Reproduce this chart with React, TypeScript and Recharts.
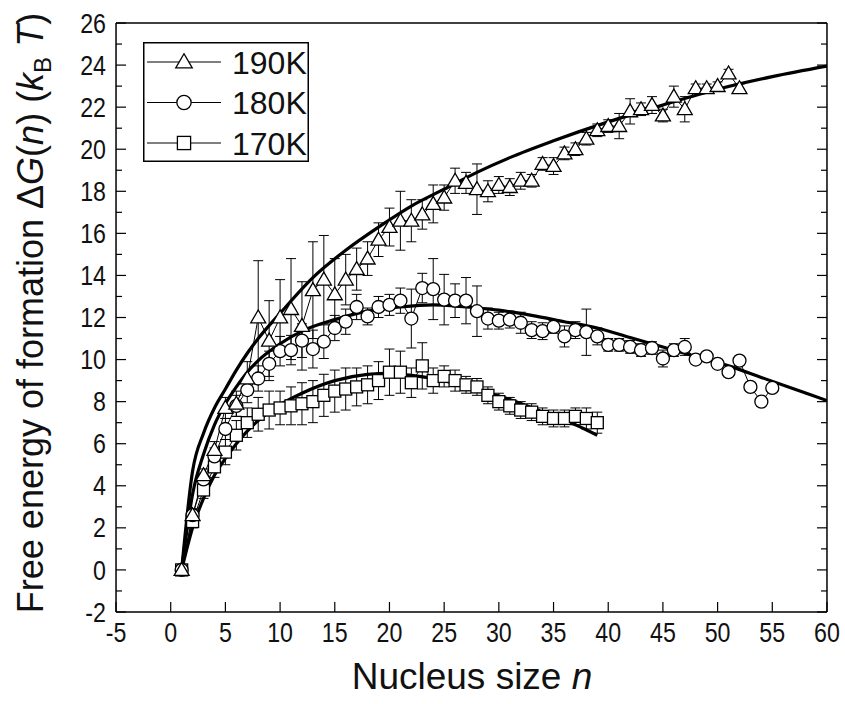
import React from 'react'
import { ComposedChart, Line, XAxis, YAxis, ErrorBar, Legend, Label } from 'recharts'

const FONT = '"Liberation Sans", Arial, Helvetica, sans-serif'

const range = (a: number, b: number) => Array.from({ length: b - a + 1 }, (_, i) => a + i)

// nucleus sizes n per temperature
const n190 = range(1, 52)
const n180 = range(1, 55)
const n170 = range(1, 39)

// measured free energy of formation (kBT) and error bars
const dg190 = [0, 2.6, 4.5, 5.7, 7.7, 7.9, 9.1, 12.0, 10.9, 12.0, 12.4, 11.6, 13.3, 13.8, 13.1, 13.8, 14.3, 14.8, 15.7, 16.3,
  16.6, 16.6, 16.9, 17.4, 17.7, 18.5, 18.4, 18.1, 18.0, 18.3, 18.2, 18.5, 18.5, 19.3, 19.2, 19.8, 20.0, 20.5, 20.9, 21.1,
  21.1, 21.8, 21.9, 22.1, 21.6, 22.5, 21.9, 22.9, 22.9, 23.0, 23.6, 22.9]
const err190 = [0.1, 0.3, 0.3, 0.4, 0.5, 0.6, 0.8, 2.7, 1.9, 1.8, 2.4, 2.1, 2.3, 2.1, 1.7, 1.2, 1.0, 0.8, 0.8, 0.9,
  1.4, 1.0, 0.7, 0.9, 0.6, 0.6, 0.5, 1.2, 0.5, 0.4, 0.4, 0.4, 0.3, 0.3, 0.4, 0.3, 0.3, 0.3, 0.3, 0.3,
  0.6, 0.6, 0.3, 0.4, 0.3, 0.5, 0.6, 0.2, 0.2, 0.2, 0.2, 0.2]

const dg180 = [0, 2.6, 4.3, 5.4, 6.7, 7.8, 8.55, 9.1, 9.8, 10.4, 10.45, 10.9, 10.5, 10.85, 11.5, 11.8, 12.5, 12.05, 12.5, 12.6,
  12.8, 11.95, 13.4, 13.35, 12.85, 12.8, 12.8, 12.3, 11.95, 11.85, 11.9, 11.75, 11.4, 11.35, 11.55, 11.1, 11.4, 11.3, 11.1, 10.7,
  10.7, 10.6, 10.45, 10.55, 10.05, 10.45, 10.6, 10.0, 10.15, 9.8, 9.4, 9.95, 8.7, 8.0, 8.65]
const err180 = [0.1, 0.3, 0.3, 0.4, 0.5, 0.5, 0.6, 0.6, 0.6, 0.7, 0.7, 0.8, 0.9, 0.8, 0.6, 0.6, 0.6, 0.4, 0.5, 0.5,
  0.6, 1.4, 0.7, 1.45, 1.2, 0.8, 1.1, 1.2, 0.5, 0.4, 0.4, 0.5, 0.4, 0.4, 0.3, 0.5, 0.4, 1.1, 0.4, 0.3,
  0.3, 0.3, 0.3, 0.3, 0.4, 0.3, 0.4, 0.1, 0.1, 0.1, 0.1, 0.1, 0.1, 0.1, 0.1]

const dg170 = [0, 2.3, 3.8, 4.9, 5.6, 6.4, 7.0, 7.4, 7.6, 7.7, 7.8, 7.9, 8.0, 8.3, 8.5, 8.6, 8.7, 8.8, 9.0, 9.4,
  9.4, 8.9, 9.7, 9.0, 9.2, 9.0, 8.8, 8.7, 8.3, 8.0, 7.8, 7.6, 7.5, 7.3, 7.2, 7.2, 7.3, 7.2, 7.0]
const err170 = [0.1, 0.3, 0.4, 0.5, 0.6, 0.7, 0.7, 0.8, 0.9, 0.8, 0.9, 1.0, 1.0, 1.0, 1.0, 1.0, 0.9, 0.9, 0.9, 1.1,
  1.0, 0.7, 1.1, 0.6, 0.5, 0.5, 0.4, 0.4, 0.4, 0.4, 0.4, 0.4, 0.4, 0.4, 0.4, 0.4, 0.4, 0.5, 0.5]

// fitted curves
const fitN190 = [1, 2, 3, 4, 5, 6, 7, 8, 10, 13, 16, 19, 22, 25, 28, 31, 35, 40, 45, 50, 55, 60]
const fitDg190 = [0, 4.7, 6.5, 7.7, 8.6, 9.5, 10.3, 11.0, 12.2, 13.9, 15.2, 16.3, 17.3, 18.1, 18.9, 19.6, 20.4, 21.3, 22.1, 22.85, 23.45, 23.95]
const fitN180 = [1, 2, 3, 4, 5, 6, 7, 8, 10, 12, 15, 18, 21, 24, 27, 30, 33, 36, 39, 42, 45, 48, 51, 54, 57, 60]
const fitDg180 = [0, 3.6, 5.5, 6.9, 7.9, 8.7, 9.4, 9.95, 10.75, 11.35, 11.9, 12.3, 12.5, 12.6, 12.5, 12.35, 12.1, 11.8, 11.5, 11.05, 10.6, 10.15, 9.7, 9.15, 8.6, 8.05]
const fitN170 = [1, 2, 3, 4, 5, 6, 7, 8, 10, 12, 15, 18, 20, 22, 25, 28, 31, 34, 37, 39]
const fitDg170 = [0, 2.0, 3.4, 4.5, 5.3, 6.0, 6.6, 7.1, 7.85, 8.4, 9.0, 9.3, 9.35, 9.25, 9.0, 8.55, 8.1, 7.5, 6.9, 6.4]

const xMajor = [-5, 0, 5, 10, 15, 20, 25, 30, 35, 40, 45, 50, 55, 60]
const xMinor = [-2.5, 2.5, 7.5, 12.5, 17.5, 22.5, 27.5, 32.5, 37.5, 42.5, 47.5, 52.5, 57.5]
const yMajor = [-2, 0, 2, 4, 6, 8, 10, 12, 14, 16, 18, 20, 22, 24, 26]
const yMinor = [-1, 1, 3, 5, 7, 9, 11, 13, 15, 17, 19, 21, 23, 25]

const legendItems = [
  { label: '190K', shape: 'triangle' },
  { label: '180K', shape: 'circle' },
  { label: '170K', shape: 'square' },
]

const rows = (ns: number[], vs: number[], es?: number[]) =>
  ns.map((n, i) => ({ n, dg: vs[i], err: es ? es[i] : 0 }))

const data190 = rows(n190, dg190, err190)
const data180 = rows(n180, dg180, err180)
const data170 = rows(n170, dg170, err170)
const fit190 = rows(fitN190, fitDg190)
const fit180 = rows(fitN180, fitDg180)
const fit170 = rows(fitN170, fitDg170)

function Marker({ shape, cx, cy, s = 1 }: { shape: string; cx?: number; cy?: number; s?: number }) {
  if (cx == null || cy == null) return null
  const common = { fill: '#fff', stroke: '#000', strokeWidth: 1.3 }
  if (shape === 'triangle') {
    const h = 7.5 * s
    return <polygon points={`${cx},${cy - h} ${cx - h},${cy + h * 0.72} ${cx + h},${cy + h * 0.72}`} {...common} />
  }
  if (shape === 'circle') return <circle cx={cx} cy={cy} r={6.5 * s} {...common} />
  return <rect x={cx - 6 * s} y={cy - 6 * s} width={12 * s} height={12 * s} {...common} />
}

const dotFor = (shape: string) => (p: any) => <Marker key={`${shape}-${p.index}`} shape={shape} cx={p.cx} cy={p.cy} />

const squeeze = (x: number) => `translate(${x} 0) scale(0.86 1) translate(${-x} 0)`

const XTick = (p: any) => (
  <text x={p.x} y={p.y} dy={19.5} textAnchor="middle" fontSize={27} fontFamily={FONT} fill="#111" transform={squeeze(p.x)}>
    {p.payload.value}
  </text>
)

const YTick = (p: any) => (
  <text x={p.x} y={p.y} dy={9.6} textAnchor="end" fontSize={27} fontFamily={FONT} fill="#111" transform={squeeze(p.x)}>
    {p.payload.value}
  </text>
)

const NoTick = () => <g />

const renderLegend = () => (
  <svg width={166} height={120} style={{ display: 'block' }}>
    <rect x={0.75} y={0.75} width={164.5} height={118.5} fill="#fff" stroke="#000" strokeWidth={1.5} />
    {legendItems.map((it, i) => {
      const y = 20 + i * 40.5
      return (
        <g key={it.label}>
          <line x1={4} x2={78} y1={y} y2={y} stroke="#000" strokeWidth={1.2} />
          <Marker shape={it.shape} cx={41} cy={y} s={1.1} />
          <text x={89} y={y} dy={11.5} fontSize={32} fontFamily={FONT} fill="#111">{it.label}</text>
        </g>
      )
    })}
  </svg>
)

const axisLine = { stroke: '#000', strokeWidth: 1.5 }
const tickLine = { stroke: '#000', strokeWidth: 1.2 }
// axes need a non-zero size to be drawn; keep it tiny so they sit on the frame
const THIN = 0.01

export default function App() {
  return (
    <div>
      <style>{'body{margin:0}'}</style>
      <ComposedChart width={845} height={704} margin={{ top: 23, right: 18, bottom: 92, left: 116 }}>
        {/* bottom axis with labels + minor ticks */}
        <XAxis xAxisId="b" type="number" dataKey="n" domain={[-5, 60]} ticks={xMajor} allowDataOverflow height={THIN}
          stroke="#000" axisLine={axisLine} tickLine={tickLine} tickSize={-10} tickMargin={21} tick={XTick} interval={0}>
          <Label content={() => (
            <text x={472} y={689} textAnchor="middle" fontSize={37} fontFamily={FONT} fill="#111">
              Nucleus size <tspan fontStyle="italic">n</tspan>
            </text>
          )} />
        </XAxis>
        <XAxis xAxisId="bm" type="number" domain={[-5, 60]} ticks={xMinor} allowDataOverflow height={THIN}
          axisLine={false} tickLine={tickLine} tickSize={-6} tick={NoTick} interval={0} />
        {/* mirrored top axis */}
        <XAxis xAxisId="t" orientation="top" type="number" domain={[-5, 60]} ticks={xMajor} allowDataOverflow height={THIN}
          stroke="#000" axisLine={axisLine} tickLine={tickLine} tickSize={-10} tick={NoTick} interval={0} />
        <XAxis xAxisId="tm" orientation="top" type="number" domain={[-5, 60]} ticks={xMinor} allowDataOverflow height={THIN}
          axisLine={false} tickLine={tickLine} tickSize={-6} tick={NoTick} interval={0} />

        <YAxis yAxisId="l" type="number" domain={[-2, 26]} ticks={yMajor} allowDataOverflow width={THIN}
          stroke="#000" axisLine={axisLine} tickLine={tickLine} tickSize={-10} tickMargin={20} tick={YTick} interval={0}>
          <Label content={() => (
            <text x={43} y={313} textAnchor="middle" fontSize={36} fontFamily={FONT} fill="#111" transform="rotate(-90 43 313)">
              Free energy of formation Δ<tspan fontStyle="italic">G</tspan>(<tspan fontStyle="italic">n</tspan>) (<tspan fontStyle="italic">k</tspan>
              <tspan fontSize={24} dy={8}>B</tspan>
              <tspan dy={-8}> </tspan>
              <tspan fontStyle="italic">T</tspan>)
            </text>
          )} />
        </YAxis>
        <YAxis yAxisId="lm" type="number" domain={[-2, 26]} ticks={yMinor} allowDataOverflow width={THIN}
          axisLine={false} tickLine={tickLine} tickSize={-6} tick={NoTick} interval={0} />
        <YAxis yAxisId="r" orientation="right" type="number" domain={[-2, 26]} ticks={yMajor} allowDataOverflow width={THIN}
          stroke="#000" axisLine={axisLine} tickLine={tickLine} tickSize={-10} tick={NoTick} interval={0} />
        <YAxis yAxisId="rm" orientation="right" type="number" domain={[-2, 26]} ticks={yMinor} allowDataOverflow width={THIN}
          axisLine={false} tickLine={tickLine} tickSize={-6} tick={NoTick} interval={0} />

        <Legend content={renderLegend} layout="vertical" align="center" verticalAlign="middle"
          wrapperStyle={{ left: 143, top: 42, width: 166, height: 120 }} />

        {/* measured points */}
        <Line xAxisId="b" yAxisId="l" data={data170} dataKey="dg" name="170K" type="linear" stroke="#000" strokeWidth={1}
          dot={dotFor('square')} activeDot={false} isAnimationActive={false}>
          <ErrorBar dataKey="err" width={5} stroke="#000" strokeWidth={1} direction="y" />
        </Line>
        <Line xAxisId="b" yAxisId="l" data={data180} dataKey="dg" name="180K" type="linear" stroke="#000" strokeWidth={1}
          dot={dotFor('circle')} activeDot={false} isAnimationActive={false}>
          <ErrorBar dataKey="err" width={5} stroke="#000" strokeWidth={1} direction="y" />
        </Line>
        <Line xAxisId="b" yAxisId="l" data={data190} dataKey="dg" name="190K" type="linear" stroke="#000" strokeWidth={1}
          dot={dotFor('triangle')} activeDot={false} isAnimationActive={false}>
          <ErrorBar dataKey="err" width={5} stroke="#000" strokeWidth={1} direction="y" />
        </Line>

        {/* fits */}
        <Line xAxisId="b" yAxisId="l" data={fit190} dataKey="dg" type="monotone" stroke="#000" strokeWidth={3.2}
          dot={false} activeDot={false} isAnimationActive={false} legendType="none" />
        <Line xAxisId="b" yAxisId="l" data={fit180} dataKey="dg" type="monotone" stroke="#000" strokeWidth={3.2}
          dot={false} activeDot={false} isAnimationActive={false} legendType="none" />
        <Line xAxisId="b" yAxisId="l" data={fit170} dataKey="dg" type="monotone" stroke="#000" strokeWidth={3.2}
          dot={false} activeDot={false} isAnimationActive={false} legendType="none" />
      </ComposedChart>
    </div>
  )
}
